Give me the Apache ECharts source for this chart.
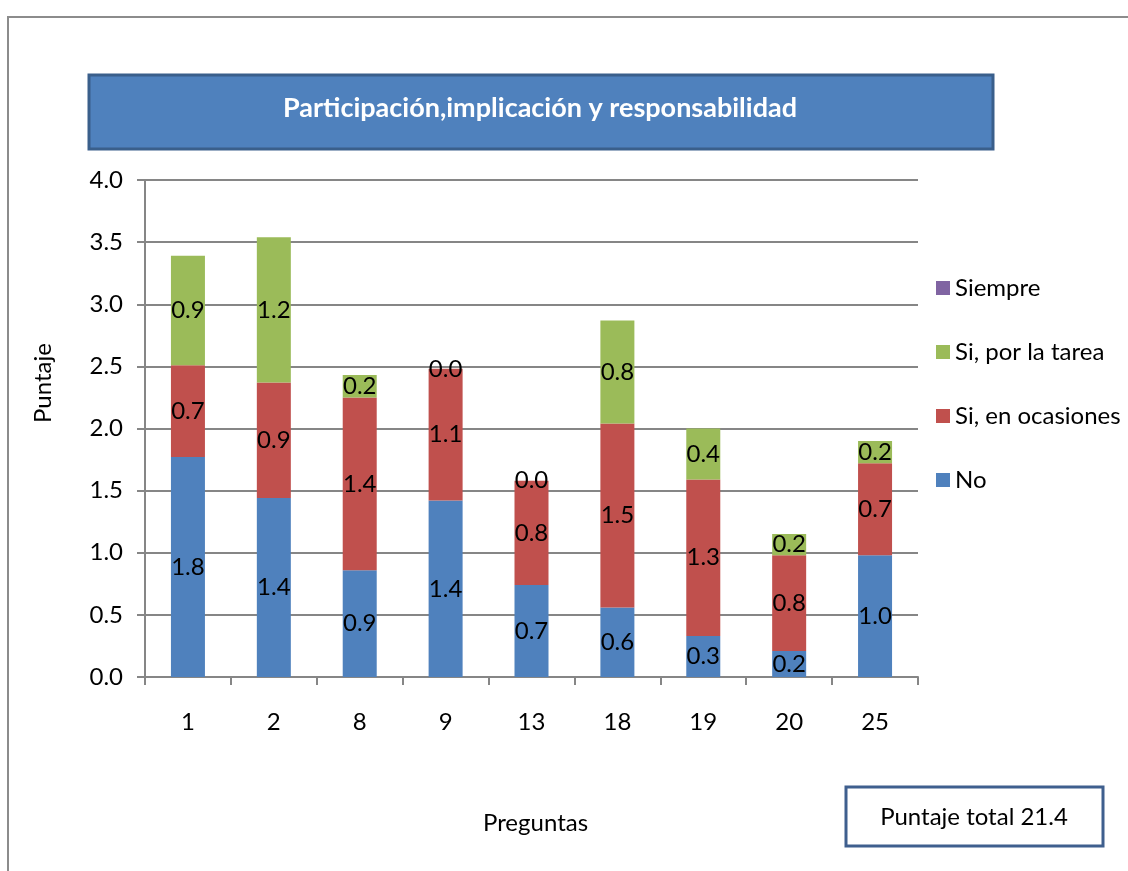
<!DOCTYPE html>
<html>
<head>
<meta charset="utf-8">
<script src="https://cdn.jsdelivr.net/npm/echarts@6/dist/echarts.min.js"></script>
<style>
  html, body { margin: 0; padding: 0; background: #fff; }
  #chart { width: 1128px; height: 871px; }
</style>
</head>
<body>
<div id="chart"></div>
<script>
// preguntas
var categories = ['1', '2', '8', '9', '13', '18', '19', '20', '25'];
// valores por respuesta
var noVals = [1.77, 1.44, 0.86, 1.42, 0.74, 0.56, 0.33, 0.21, 0.98];
var ocasionesVals = [0.74, 0.93, 1.39, 1.06, 0.84, 1.48, 1.26, 0.77, 0.74];
var tareaVals = [0.88, 1.17, 0.18, 0.0, 0.0, 0.83, 0.41, 0.17, 0.18];
var siempreVals = [0, 0, 0, 0, 0, 0, 0, 0, 0];
var yTicks = [0, 0.5, 1, 1.5, 2, 2.5, 3, 3.5, 4];

var font = 'Lato, "Open Sans", sans-serif';
var gray = '#868686';

var myChart = echarts.init(document.getElementById('chart'));

function barLabel() {
  return {
    show: true,
    position: 'inside',
    color: '#000',
    fontSize: 24,
    fontFamily: font,
    formatter: function (p) {
      return p.value.toFixed(1);
    }
  };
}

var option = {
  backgroundColor: '#fff',
  animation: false,
  textStyle: { fontFamily: font },
  grid: {
    left: 145,
    top: 180,
    right: 210,
    bottom: 194,
    containLabel: false
  },
  legend: {
    orient: 'vertical',
    left: 931,
    top: 270,
    itemWidth: 14,
    itemHeight: 14,
    itemGap: 38,
    icon: 'rect',
    selectedMode: false,
    textStyle: { fontSize: 24, lineHeight: 26, color: '#000', fontFamily: font },
    data: ['Siempre', 'Si, por la tarea', 'Si, en ocasiones', 'No']
  },
  xAxis: {
    type: 'category',
    data: categories,
    name: 'Preguntas',
    nameLocation: 'middle',
    nameGap: 134,
    nameTextStyle: { fontSize: 24, color: '#000', fontFamily: font, padding: [0, 0, 0, 8] },
    axisLine: { lineStyle: { color: gray, width: 2 } },
    axisTick: { show: true, length: 8, lineStyle: { color: gray, width: 2 } },
    axisLabel: { fontSize: 24, color: '#000', margin: 33, fontFamily: font }
  },
  yAxis: {
    type: 'value',
    min: yTicks[0],
    max: yTicks[yTicks.length - 1],
    interval: 0.5,
    axisLine: { show: true, lineStyle: { color: gray, width: 2 } },
    axisTick: { show: true, length: 8, lineStyle: { color: gray, width: 2 } },
    axisLabel: {
      fontSize: 24,
      color: '#000',
      margin: 22,
      fontFamily: font,
      formatter: function (v) { return v.toFixed(1); }
    },
    splitLine: { show: true, lineStyle: { color: gray, width: 2 } }
  },
  series: [
    {
      name: 'No',
      type: 'bar',
      stack: 'total',
      barWidth: 34,
      data: noVals,
      itemStyle: { color: '#4F81BD' },
      label: barLabel()
    },
    {
      name: 'Si, en ocasiones',
      type: 'bar',
      stack: 'total',
      barWidth: 34,
      data: ocasionesVals,
      itemStyle: { color: '#C0504D' },
      label: barLabel()
    },
    {
      name: 'Si, por la tarea',
      type: 'bar',
      stack: 'total',
      barWidth: 34,
      data: tareaVals,
      itemStyle: { color: '#9BBB59' },
      label: barLabel()
    },
    {
      name: 'Siempre',
      type: 'bar',
      stack: 'total',
      barWidth: 34,
      data: siempreVals,
      itemStyle: { color: '#8064A2' },
      label: { show: false }
    }
  ],
  graphic: [
    // marco exterior
    {
      type: 'polyline',
      shape: { points: [[8, 871], [8, 17], [1128, 17]] },
      style: { stroke: '#8C8C8C', lineWidth: 2, fill: null },
      silent: true
    },
    // caja del titulo
    {
      type: 'rect',
      shape: { x: 89, y: 75, width: 904, height: 74 },
      style: { fill: '#4F81BD', stroke: '#3A5F8B', lineWidth: 3 },
      silent: true
    },
    {
      type: 'text',
      x: 540,
      y: 108,
      style: {
        text: 'Participación,implicación y responsabilidad',
        fill: '#fff',
        fontSize: 27,
        fontWeight: 'bold',
        fontFamily: font,
        align: 'center',
        verticalAlign: 'middle'
      },
      silent: true
    },
    // titulo del eje y
    {
      type: 'text',
      x: 43,
      y: 383,
      rotation: Math.PI / 2,
      style: {
        text: 'Puntaje',
        fill: '#000',
        fontSize: 24,
        fontFamily: font,
        align: 'center',
        verticalAlign: 'middle'
      },
      silent: true
    },
    // caja del puntaje total
    {
      type: 'rect',
      shape: { x: 846, y: 787, width: 257, height: 59 },
      style: { fill: '#fff', stroke: '#3F5F8E', lineWidth: 3 },
      silent: true
    },
    {
      type: 'text',
      x: 974,
      y: 817,
      style: {
        text: 'Puntaje total 21.4',
        fill: '#000',
        fontSize: 24,
        fontFamily: font,
        align: 'center',
        verticalAlign: 'middle'
      },
      silent: true
    }
  ]
};

myChart.setOption(option);
window.onresize = myChart.resize;
</script>
</body>
</html>
